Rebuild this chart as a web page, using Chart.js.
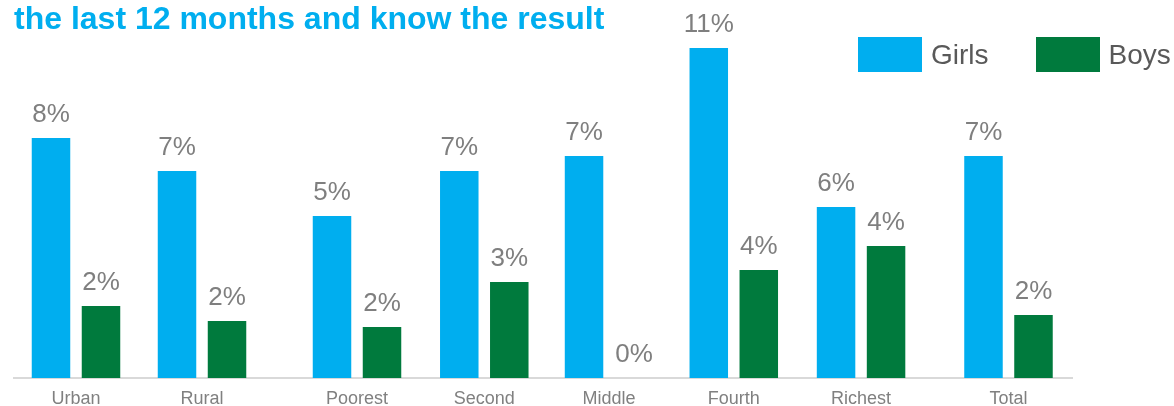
<!DOCTYPE html>
<html>
<head>
<meta charset="utf-8">
<script src="https://cdn.jsdelivr.net/npm/chart.js@4.4.1/dist/chart.umd.min.js"></script>
<style>
  body { margin: 0; background: #fff; }
  #wrap { position: relative; width: 1174px; height: 406px; }
  #leyenda { position: absolute; left: 858px; top: 37px; display: flex; font-family: "Liberation Sans", Arial, sans-serif; }
  .item { display: flex; align-items: center; margin-right: 47px; font-size: 28px; color: #595959; height: 35px; }
  .item:last-child { margin-right: 0; }
  .caja { width: 64px; height: 35px; margin-right: 9px; }
</style>
</head>
<body>
<div id="wrap">
  <canvas id="myChart" width="1174" height="406"></canvas>
  <div id="leyenda"></div>
</div>
<script>
// datos del grafico
const categorias = ['Urban', 'Rural', 'Poorest', 'Second', 'Middle', 'Fourth', 'Richest', 'Total'];
const girls = [8.0, 6.9, 5.4, 6.9, 7.4, 11.0, 5.7, 7.4];
const boys = [2.4, 1.9, 1.7, 3.2, 0.0, 3.6, 4.4, 2.1];
const titulo = 'the last 12 months and know the result';

// separacion de los grupos en el eje (hay huecos tras Rural y tras Richest)
const posiciones = [0, 1, 2.23, 3.24, 4.23, 5.22, 6.23, 7.4];

const fuente = '"Liberation Sans", Arial, sans-serif';
const colorGirls = '#00AEEF';
const colorBoys = '#007A3D';

function puntos(valores) {
    return valores.map((v, i) => ({ x: posiciones[i], y: v }));
}

// pinta el porcentaje encima de cada barra
const etiquetas = {
    id: 'etiquetas',
    afterDatasetsDraw(chart) {
        var ctx = chart.ctx;
        ctx.save();
        ctx.font = '26px ' + fuente;
        ctx.fillStyle = '#7F7F7F';
        ctx.textAlign = 'center';
        ctx.textBaseline = 'alphabetic';
        chart.data.datasets.forEach((ds, d) => {
            chart.getDatasetMeta(d).data.forEach((bar, i) => {
                ctx.fillText(Math.round(ds.data[i].y) + '%', bar.x, bar.y - 16);
            });
        });
        ctx.restore();
    }
};

// leyenda en html a partir de los datasets
const leyendaHtml = {
    id: 'leyendaHtml',
    afterUpdate(chart) {
        var cont = document.getElementById('leyenda');
        cont.innerHTML = '';
        chart.data.datasets.forEach(ds => {
            var item = document.createElement('div');
            item.className = 'item';
            item.innerHTML = `<span class="caja" style="background:${ds.backgroundColor}"></span><span>${ds.label}</span>`;
            cont.appendChild(item);
        });
    }
};

const config = {
    type: 'bar',
    data: {
        datasets: [
            { label: 'Girls', data: puntos(girls), backgroundColor: colorGirls },
            { label: 'Boys', data: puntos(boys), backgroundColor: colorBoys }
        ]
    },
    options: {
        responsive: false,
        animation: false,
        layout: { padding: { left: 14, right: 102, top: 0, bottom: 0 } },
        datasets: { bar: { categoryPercentage: 0.8016, barPercentage: 0.77 } },
        plugins: {
            legend: { display: false },
            tooltip: { enabled: false },
            title: {
                display: true,
                text: titulo,
                align: 'start',
                color: colorGirls,
                font: { family: fuente, size: 32, weight: 'bold' },
                padding: { top: 1, bottom: 4 }
            }
        },
        scales: {
            x: {
                type: 'linear',
                offset: false,
                min: -0.492,
                max: 7.904,
                grid: { display: false, drawTicks: false, offset: false },
                border: { color: '#D9D9D9', width: 2 },
                afterBuildTicks: axis => { axis.ticks = posiciones.map(v => ({ value: v })); },
                afterFit: axis => { axis.height = 28; },
                ticks: {
                    autoSkip: false,
                    maxRotation: 0,
                    padding: 10,
                    color: '#808080',
                    font: { family: fuente, size: 18 },
                    callback: (v, i) => categorias[i]
                }
            },
            y: {
                display: false,
                min: 0,
                max: 11.15
            }
        }
    },
    plugins: [etiquetas, leyendaHtml]
};

var myChart = new Chart(document.getElementById('myChart'), config);
</script>
</body>
</html>
